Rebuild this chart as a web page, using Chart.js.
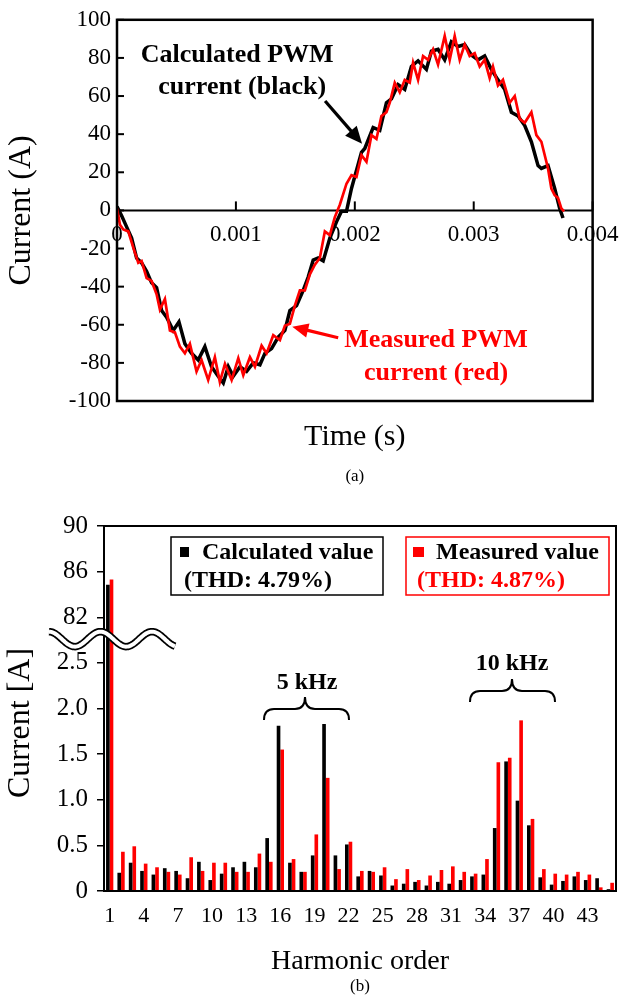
<!DOCTYPE html>
<html><head><meta charset="utf-8">
<script src="https://cdn.jsdelivr.net/npm/chart.js@4.4.1/dist/chart.umd.min.js"></script>
<style>
html,body{margin:0;padding:0;background:#fff;}
#wrap{position:relative;width:629px;height:1004px;overflow:hidden;}
canvas{position:absolute;left:0;}
</style></head><body>
<div id="wrap">
<canvas id="c1" width="629" height="490" style="top:0px"></canvas>
<canvas id="c2" width="629" height="514" style="top:490px"></canvas>
</div>
<script>
// ---------- (a) PWM current waveforms ----------
const calcTime = [0, 0.00004, 0.00008, 0.000123, 0.000165, 0.000207, 0.000249, 0.000291, 0.000333, 0.000375, 0.000417, 0.000473, 0.000521, 0.000571, 0.000627, 0.000683, 0.000739, 0.000795, 0.000851, 0.000894, 0.000936, 0.000978, 0.001034, 0.00109, 0.001146, 0.001202, 0.001244, 0.0013, 0.001356, 0.001412, 0.001454, 0.00151, 0.001566, 0.001608, 0.00165, 0.001692, 0.001734, 0.00179, 0.001846, 0.001888, 0.00193, 0.001972, 0.002056, 0.002084, 0.002154, 0.00221, 0.002266, 0.002308, 0.002364, 0.00242, 0.002476, 0.002532, 0.002602, 0.002644, 0.0027, 0.002756, 0.002812, 0.002868, 0.002924, 0.00298, 0.003036, 0.003092, 0.003148, 0.003204, 0.00326, 0.003317, 0.003373, 0.003429, 0.003485, 0.003541, 0.003569, 0.003625, 0.003681, 0.003723, 0.003751];
const calcCurrent = [2, -3, -8.5, -14.5, -25, -27.5, -32, -38, -40.5, -52.5, -56, -63, -58.5, -70, -75, -78.5, -71.5, -82, -87, -90.5, -82, -87, -82, -84.5, -80, -81, -75, -72.5, -66.5, -63, -52.5, -50, -42, -35, -26, -25, -26.5, -14.5, -6, -0.5, -0.5, 11.5, 30.5, 32.5, 43.5, 42, 56.5, 58.5, 66, 63.5, 75.5, 78.5, 74, 83.5, 84.5, 79, 88.5, 86, 87, 81.5, 79, 81, 74, 68.5, 63.5, 51.5, 49.5, 44.5, 36, 23.5, 22, 23.5, 11.5, 1, -4];
const measTime = [0, 0.000025, 0.000053, 0.000095, 0.000137, 0.000179, 0.000207, 0.000249, 0.000291, 0.000333, 0.000361, 0.000403, 0.000445, 0.000487, 0.000529, 0.000571, 0.000613, 0.000669, 0.000711, 0.000767, 0.000823, 0.000865, 0.000908, 0.000964, 0.00102, 0.001062, 0.001118, 0.00116, 0.001216, 0.001258, 0.001314, 0.00137, 0.001412, 0.001454, 0.001496, 0.001538, 0.00158, 0.001622, 0.001664, 0.001706, 0.001748, 0.00179, 0.001832, 0.001874, 0.00193, 0.001972, 0.002014, 0.002056, 0.002098, 0.00214, 0.002182, 0.002224, 0.002266, 0.002294, 0.002336, 0.002378, 0.00242, 0.002462, 0.00249, 0.002532, 0.002574, 0.002616, 0.002658, 0.0027, 0.002756, 0.002798, 0.00284, 0.002882, 0.002924, 0.002966, 0.003008, 0.00305, 0.003092, 0.003134, 0.003162, 0.003204, 0.003246, 0.003302, 0.003345, 0.003387, 0.003429, 0.003485, 0.003527, 0.003569, 0.003625, 0.003653, 0.003681, 0.003709, 0.003737, 0.00376];
const measCurrent = [1, -7.5, -10, -11, -19.5, -27.5, -26.5, -35.5, -37, -44, -52, -46.5, -63, -64, -71.5, -75, -70, -84.5, -78.5, -89, -77, -90, -80.5, -89, -77.5, -86.5, -77, -82, -71, -75, -65.5, -68, -60.5, -59.5, -50, -42, -42, -33.5, -28.5, -25, -11, -13, -3.5, 3, 14, 18.5, 17.5, 29, 25.5, 39.5, 37.5, 49.5, 51.5, 56.5, 67, 62, 68.5, 67, 77.5, 68.5, 81, 79, 84.5, 76.5, 91.5, 79, 91.5, 79, 87, 81, 82.5, 75.5, 79, 69.5, 75.5, 65.5, 68.5, 56.5, 60, 48, 46, 51.5, 39.5, 36, 22, 11.5, 8, 6.5, 1, -0.5];
const timeTickLabels = ['0', '0.001', '0.002', '0.003', '0.004'];

// ---------- (b) harmonic spectrum ----------
const harmonicOrder = ['1','2','3','4','5','6','7','8','9','10','11','12','13','14','15','16','17','18','19','20','21','22','23','24','25','26','27','28','29','30','31','32','33','34','35','36','37','38','39','40','41','42','43','44','45'];
const calcHarmonic = [84.85, 0.20, 0.31, 0.22, 0.18, 0.25, 0.22, 0.14, 0.32, 0.12, 0.19, 0.26, 0.32, 0.26, 0.58, 1.81, 0.31, 0.21, 0.39, 1.83, 0.39, 0.51, 0.16, 0.22, 0.17, 0.06, 0.08, 0.10, 0.06, 0.10, 0.08, 0.12, 0.16, 0.18, 0.69, 1.42, 0.99, 0.72, 0.15, 0.07, 0.11, 0.16, 0.12, 0.14, 0.02];
const measHarmonic = [85.3, 0.43, 0.49, 0.30, 0.26, 0.21, 0.18, 0.37, 0.22, 0.31, 0.31, 0.21, 0.21, 0.41, 0.32, 1.55, 0.35, 0.21, 0.62, 1.24, 0.24, 0.54, 0.22, 0.21, 0.26, 0.13, 0.24, 0.12, 0.17, 0.23, 0.27, 0.21, 0.19, 0.35, 1.41, 1.46, 1.87, 0.79, 0.24, 0.19, 0.18, 0.21, 0.18, 0.04, 0.09];
const currentTickLabels = ['0', '0.5', '1.0', '1.5', '2.0', '2.5', '82', '86', '90'];

const SERIF = "'Liberation Serif', 'Times New Roman', serif";

// broken axis: 0..2.5 in steps of 0.5 -> slots 0..5, 82..90 in steps of 4 -> slots 6..8
function toSlot(v) { return v <= 2.5 ? v / 0.5 : 6 + (v - 82) / 4; }

function arrow(ctx, x1, y1, x2, y2, color, lw, head) {
  const ang = Math.atan2(y2 - y1, x2 - x1);
  ctx.strokeStyle = color; ctx.fillStyle = color; ctx.lineWidth = lw;
  ctx.beginPath(); ctx.moveTo(x1, y1);
  ctx.lineTo(x2 - Math.cos(ang) * head * 0.8, y2 - Math.sin(ang) * head * 0.8); ctx.stroke();
  ctx.beginPath(); ctx.moveTo(x2, y2);
  ctx.lineTo(x2 - head * Math.cos(ang) + head * 0.45 * Math.sin(ang), y2 - head * Math.sin(ang) - head * 0.45 * Math.cos(ang));
  ctx.lineTo(x2 - head * Math.cos(ang) - head * 0.45 * Math.sin(ang), y2 - head * Math.sin(ang) + head * 0.45 * Math.cos(ang));
  ctx.closePath(); ctx.fill();
}

const topDecor = {
  id: 'topDecor',
  beforeDatasetsDraw(chart) {
    const {ctx, chartArea: a, scales: {x, y}} = chart;
    ctx.save();
    ctx.strokeStyle = '#000';
    ctx.lineWidth = 2;
    const y0 = y.getPixelForValue(0);
    ctx.beginPath(); ctx.moveTo(a.left, y0); ctx.lineTo(a.right, y0); ctx.stroke();
    x.ticks.forEach(t => {
      const px = x.getPixelForValue(t.value);
      ctx.beginPath(); ctx.moveTo(px, y0); ctx.lineTo(px, y0 - 9); ctx.stroke();
    });
    y.ticks.forEach(t => {
      const py = y.getPixelForValue(t.value);
      ctx.beginPath(); ctx.moveTo(a.left, py); ctx.lineTo(a.left + 7, py); ctx.stroke();
    });
    ctx.restore();
  },
  afterDatasetsDraw(chart) {
    const {ctx, chartArea: a} = chart;
    ctx.save();
    ctx.strokeStyle = '#000'; ctx.lineWidth = 2.5;
    ctx.strokeRect(a.left, a.top, a.right - a.left, a.bottom - a.top);
    ctx.restore();
  },
  afterDraw(chart) {
    const {ctx, scales: {x, y}} = chart;
    ctx.save();
    ctx.font = 'bold 26px ' + SERIF;
    ctx.textAlign = 'center'; ctx.textBaseline = 'middle';
    ctx.fillStyle = '#000';
    ctx.fillText('Calculated PWM', x.getPixelForValue(0.001011), y.getPixelForValue(81.5));
    ctx.fillText('current (black)', x.getPixelForValue(0.001053), y.getPixelForValue(64.5));
    arrow(ctx, x.getPixelForValue(0.00175), y.getPixelForValue(57.4), x.getPixelForValue(0.002061), y.getPixelForValue(35), '#000', 3.2, 17);
    ctx.fillStyle = '#ff0000';
    ctx.fillText('Measured PWM', x.getPixelForValue(0.002683), y.getPixelForValue(-68.3));
    ctx.fillText('current (red)', x.getPixelForValue(0.002683), y.getPixelForValue(-85.5));
    arrow(ctx, x.getPixelForValue(0.00186), y.getPixelForValue(-66.8), x.getPixelForValue(0.001474), y.getPixelForValue(-61), '#ff0000', 3.2, 16);
    ctx.restore();
  }
};

new Chart(document.getElementById('c1'), {
  type: 'line',
  data: {
    datasets: [
      { label: 'Calculated PWM current (black)', data: calcTime.map((t, i) => ({x: t, y: calcCurrent[i]})),
        borderColor: '#000', borderWidth: 3.5, pointRadius: 0, tension: 0, fill: false, order: 1 },
      { label: 'Measured PWM current (red)', data: measTime.map((t, i) => ({x: t, y: measCurrent[i]})),
        borderColor: '#ff0000', borderWidth: 2.7, pointRadius: 0, tension: 0, fill: false, order: 0 }
    ]
  },
  options: {
    responsive: false, animation: false, devicePixelRatio: 1,
    layout: { padding: { left: 0, right: 34.5, top: 16, bottom: 4.5 } },
    plugins: {
      legend: { display: false }, tooltip: { enabled: false },
      title: { display: true, text: 'Time (s)', position: 'bottom', fullSize: false, weight: 1000, color: '#000',
        font: { family: SERIF, size: 30, weight: 'normal', lineHeight: 1 }, padding: { top: 21, bottom: 0 } },
      subtitle: { display: true, text: '(a)', position: 'bottom', fullSize: false, weight: 3000, color: '#000',
        font: { family: SERIF, size: 17, weight: 'normal', lineHeight: 1 }, padding: { top: 16.5, bottom: 0 } }
    },
    scales: {
      x: {
        type: 'linear', min: 0, max: 0.004, position: { y: 0 },
        grid: { display: false, drawTicks: false }, border: { display: false },
        ticks: { stepSize: 0.001, padding: 10.5, color: '#000', font: { family: SERIF, size: 23 },
          callback: v => timeTickLabels[Math.round(v / 0.001)] },
        afterFit: s => { s.height = 0; }
      },
      y: {
        type: 'linear', min: -100, max: 100,
        grid: { display: false, drawTicks: false }, border: { display: false },
        ticks: { stepSize: 20, padding: 6, color: '#000', font: { family: SERIF, size: 23 } },
        title: { display: true, text: 'Current (A)', color: '#000', font: { family: SERIF, size: 32, lineHeight: 1 }, padding: 6 },
        afterFit: s => { s.width = 117; }
      }
    }
  },
  plugins: [topDecor]
});

// ---------- bottom chart ----------
function brace(ctx, x1, x2, yEnd, yMid, tipX, tipY) {
  const r = 10;
  ctx.beginPath();
  ctx.moveTo(x1, yEnd);
  ctx.quadraticCurveTo(x1, yMid, x1 + r, yMid);
  ctx.lineTo(tipX - r, yMid);
  ctx.quadraticCurveTo(tipX, yMid, tipX, tipY);
  ctx.quadraticCurveTo(tipX, yMid, tipX + r, yMid);
  ctx.lineTo(x2 - r, yMid);
  ctx.quadraticCurveTo(x2, yMid, x2, yEnd);
  ctx.stroke();
}

const bottomDecor = {
  id: 'bottomDecor',
  afterDraw(chart) {
    const {ctx, chartArea: a, scales: {x, y}} = chart;
    ctx.save();
    ctx.strokeStyle = '#000'; ctx.lineWidth = 2;
    ctx.strokeRect(a.left, a.top, a.right - a.left, a.bottom - a.top);

    // axis break symbol
    const yc = y.getPixelForValue(5.52);
    const wave = () => {
      ctx.beginPath();
      for (let px = 49; px <= 175; px++) {
        const py = yc - 7.5 * Math.cos(2 * Math.PI * (px - 49) / 51.5);
        if (px === 49) ctx.moveTo(px, py); else ctx.lineTo(px, py);
      }
      ctx.stroke();
    };
    ctx.lineCap = 'butt';
    ctx.strokeStyle = '#000'; ctx.lineWidth = 7.5; wave();
    ctx.strokeStyle = '#fff'; ctx.lineWidth = 4; wave();

    // legend boxes
    ctx.lineWidth = 1.5;
    ctx.strokeStyle = '#000';
    ctx.strokeRect(171, 47, 212, 58);
    ctx.strokeStyle = '#ff0000';
    ctx.strokeRect(406, 47, 203, 58);
    ctx.fillStyle = '#000'; ctx.fillRect(180, 57, 9, 10);
    ctx.fillStyle = '#ff0000'; ctx.fillRect(413, 57, 11, 10);
    ctx.font = 'bold 24px ' + SERIF;
    ctx.textAlign = 'left'; ctx.textBaseline = 'middle';
    ctx.fillStyle = '#000';
    ctx.fillText(chart.data.datasets[0].label, 202, 63);
    ctx.fillText('(THD: 4.79%)', 184, 91);
    ctx.fillText(chart.data.datasets[1].label, 436, 63);
    ctx.fillStyle = '#ff0000';
    ctx.fillText('(THD: 4.87%)', 417, 91);

    // braces
    ctx.fillStyle = '#000'; ctx.strokeStyle = '#000'; ctx.lineWidth = 2;
    ctx.textAlign = 'center';
    ctx.fillText('5 kHz', 307, 193);
    brace(ctx, 264, 349, 230, 219, 305, 207);
    ctx.fillText('10 kHz', 512, 174);
    brace(ctx, 470, 555, 212, 201, 512, 189);

    // y title
    ctx.translate(21, 233); ctx.rotate(-Math.PI / 2);
    ctx.font = '32px ' + SERIF; ctx.textAlign = 'center'; ctx.textBaseline = 'middle';
    ctx.fillText('Current [A]', 0, 0);
    ctx.restore();
  }
};

new Chart(document.getElementById('c2'), {
  type: 'bar',
  data: {
    labels: harmonicOrder,
    datasets: [
      { label: 'Calculated value', data: calcHarmonic.map(toSlot), backgroundColor: '#000', borderWidth: 0 },
      { label: 'Measured value', data: measHarmonic.map(toSlot), backgroundColor: '#ff0000', borderWidth: 0 }
    ]
  },
  options: {
    responsive: false, animation: false, devicePixelRatio: 1,
    categoryPercentage: 0.64, barPercentage: 1.0,
    layout: { padding: { left: 0, right: 13, top: 36, bottom: 8.7 } },
    plugins: {
      legend: { display: false }, tooltip: { enabled: false },
      title: { display: true, text: 'Harmonic order', position: 'bottom', fullSize: false, weight: 1000, color: '#000',
        font: { family: SERIF, size: 28, weight: 'normal', lineHeight: 1 }, padding: { top: 18.3, bottom: 0 } },
      subtitle: { display: true, text: '(b)', position: 'bottom', fullSize: false, weight: 3000, color: '#000',
        font: { family: SERIF, size: 17, weight: 'normal', lineHeight: 1 }, padding: { top: 3, bottom: 0 } }
    },
    scales: {
      x: {
        grid: { display: false, drawTicks: false }, border: { display: false },
        ticks: { autoSkip: false, maxRotation: 0, padding: 11.8, color: '#000', font: { family: SERIF, size: 22 },
          callback: function (v, i) { return i % 3 === 0 ? this.getLabelForValue(v) : ''; } },
        afterFit: s => { s.height = 38; }
      },
      y: {
        min: 0, max: 8,
        grid: { drawOnChartArea: false, drawTicks: true, tickLength: 7, color: '#000', lineWidth: 1.5 },
        border: { display: false },
        ticks: { stepSize: 1, padding: 9, color: '#000', font: { family: SERIF, size: 25 },
          callback: v => currentTickLabels[v] },
        afterFit: s => { s.width = 104; }
      }
    }
  },
  plugins: [bottomDecor]
});
</script>
</body></html>
